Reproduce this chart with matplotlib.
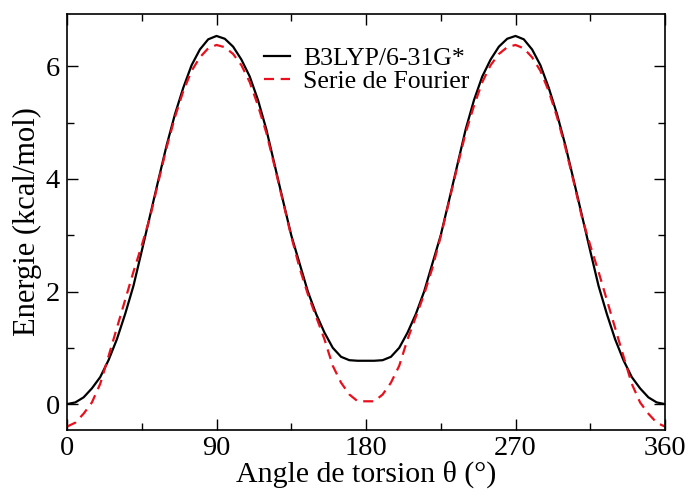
import matplotlib
matplotlib.use("Agg")
import matplotlib.pyplot as plt
from matplotlib.ticker import MultipleLocator

# Black curve: B3LYP/6-31G* scan (5 degree steps)
theta_dft = list(range(0, 361, 5))
energy_dft = [0.00, 0.03, 0.12, 0.28, 0.48, 0.78, 1.15, 1.60, 2.10, 2.72,
              3.35, 3.98, 4.60, 5.15, 5.62, 6.02, 6.30, 6.48, 6.54, 6.49,
              6.35, 6.12, 5.82, 5.40, 4.88, 4.25, 3.62, 3.00, 2.50, 2.00,
              1.60, 1.27, 1.00, 0.84, 0.78, 0.77, 0.77, 0.77, 0.78, 0.84,
              1.00, 1.27, 1.60, 2.00, 2.50, 3.00, 3.62, 4.25, 4.88, 5.40,
              5.82, 6.12, 6.35, 6.49, 6.54, 6.48, 6.30, 6.02, 5.62, 5.15,
              4.60, 3.98, 3.35, 2.72, 2.10, 1.60, 1.15, 0.78, 0.48, 0.28,
              0.12, 0.03, 0.00]

# Red dashed curve: Fourier series (5 degree steps)
theta_fourier = list(range(0, 361, 5))
energy_fourier = [-0.40, -0.33, -0.17, 0.03, 0.36, 0.85, 1.35, 1.85, 2.35, 2.82,
                  3.32, 3.95, 4.56, 5.10, 5.56, 5.92, 6.16, 6.32, 6.38, 6.34,
                  6.22, 6.02, 5.72, 5.30, 4.82, 4.22, 3.60, 2.98, 2.42, 1.95,
                  1.55, 1.15, 0.68, 0.38, 0.17, 0.05, 0.05, 0.05, 0.17, 0.38,
                  0.68, 1.15, 1.55, 1.95, 2.42, 2.98, 3.60, 4.22, 4.82, 5.30,
                  5.72, 6.02, 6.22, 6.34, 6.38, 6.32, 6.16, 5.92, 5.56, 5.10,
                  4.56, 3.95, 3.32, 2.82, 2.35, 1.85, 1.35, 0.85, 0.36, 0.03,
                  -0.17, -0.33, -0.40]

x_ticks = [0, 90, 180, 270, 360]
y_ticks = [0, 2, 4, 6]

plt.rcParams['font.family'] = ['Liberation Serif', 'DejaVu Serif']

fig = plt.figure(figsize=(6.91, 4.91), dpi=100)
ax = fig.add_axes([67/691, 1 - 430/491, (665 - 67)/691, (430 - 14)/491])

ax.plot(theta_dft, energy_dft, color='black', lw=1.6, label='B3LYP/6-31G*')
ax.plot(theta_fourier, energy_fourier, color='#e8101c', lw=1.6,
        dashes=(4.5, 3), label='Serie de Fourier')

ax.set_xlim(0, 360)
ax.set_ylim(-0.46, 6.93)
ax.set_xticks(x_ticks)
ax.set_yticks(y_ticks)
ax.xaxis.set_minor_locator(MultipleLocator(45))
ax.yaxis.set_minor_locator(MultipleLocator(1))
ax.tick_params(which='both', direction='in', top=True, right=True,
               labelsize=20.5, width=1.0)
ax.tick_params(which='major', length=8, pad=5)
ax.tick_params(axis='x', which='major', pad=4)
ax.tick_params(which='minor', length=5)
for s in ax.spines.values():
    s.set_linewidth(1.2)

ax.set_xlabel('Angle de torsion θ (°)', fontsize=21.5, labelpad=0)
ax.set_ylabel('Energie (kcal/mol)', fontsize=22, labelpad=3)

ax.legend(loc='upper left', bbox_to_anchor=(0.33, 0.92), frameon=False,
          fontsize=18.5, handlelength=1.0, handletextpad=0.5,
          labelspacing=0.0, borderaxespad=0, borderpad=0)

fig.savefig('out.png', dpi=100)
